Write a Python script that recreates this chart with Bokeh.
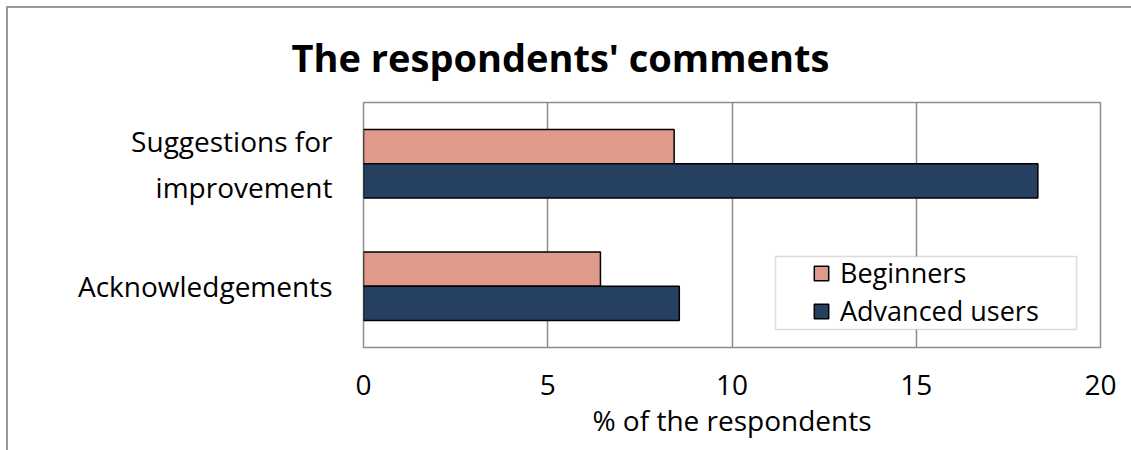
from bokeh.plotting import figure
from bokeh.layouts import column
from bokeh.models import (FactorRange, Range1d, FixedTicker, Legend, LegendItem,
                          ColumnDataSource, BoxAnnotation, InlineStyleSheet)
from bokeh.transform import dodge
from bokeh.embed import file_html
from bokeh.resources import INLINE

categories = ["Acknowledgements", "Suggestions for\nimprovement"]
beginners = [6.43, 8.43]
advanced = [8.57, 18.3]
series_names = ["Beginners", "Advanced users"]
x_ticks = [0, 5, 10, 15, 20]
title_text = "The respondents' comments"
x_title = "% of the respondents"

FONT = "Open Sans"
src = ColumnDataSource(dict(cat=categories, beg=beginners, adv=advanced))

p = figure(width=1131, height=450, output_backend="svg", toolbar_location=None,
           y_range=FactorRange(factors=categories), x_range=Range1d(0, 20),
           min_border_left=363, min_border_right=31, min_border_top=102,
           min_border_bottom=103, title=title_text)
p.title.align = "left"
p.title.offset = -72
p.title.standoff = 40
p.title.text_font = FONT
p.title.text_font_style = "bold"
p.title.text_font_size = "38px"
p.title.text_color = "black"

p.background_fill_color = "white"
p.border_fill_color = "white"
p.outline_line_color = "#8c8c8c"
p.outline_line_width = 1.5

r1 = p.hbar(y=dodge("cat", 0.14, range=p.y_range), right="beg", left=0, height=0.28,
            source=src, fill_color="#E09A8B", line_color="black", line_width=1.5)
r2 = p.hbar(y=dodge("cat", -0.14, range=p.y_range), right="adv", left=0, height=0.28,
            source=src, fill_color="#264061", line_color="black", line_width=1.5)

p.ygrid.visible = False
p.xgrid.grid_line_color = "#8c8c8c"
p.xgrid.grid_line_width = 1.5
p.xaxis.ticker = FixedTicker(ticks=x_ticks)
for ax in (p.xaxis[0], p.yaxis[0]):
    ax.axis_line_color = None
    ax.major_tick_line_color = None
    ax.minor_tick_line_color = None
    ax.major_tick_out = 0
    ax.major_tick_in = 0
    ax.major_label_text_font = FONT
    ax.major_label_text_font_size = "28px"
    ax.major_label_text_color = "black"
p.xaxis.major_label_standoff = 27
p.xaxis.axis_label = x_title
p.xaxis.axis_label_text_font = FONT
p.xaxis.axis_label_text_font_size = "28px"
p.xaxis.axis_label_text_font_style = "normal"
p.xaxis.axis_label_text_color = "black"
p.xaxis.axis_label_standoff = 3
p.yaxis.major_label_standoff = 31

# legend frame (decoration), wider than Bokeh's uniform legend padding allows
p.add_layout(BoxAnnotation(left=11.18, right=19.35, bottom=0.147, top=0.743,
                           fill_color="white", fill_alpha=1,
                           line_color="#8c8c8c", line_width=1.5))

legend = Legend(items=[LegendItem(label=series_names[0], renderers=[r1]),
                       LegendItem(label=series_names[1], renderers=[r2])],
                location=(449, 18), label_text_font=FONT, label_text_font_size="27px",
                label_text_color="black",
                border_line_color=None, background_fill_alpha=0,
                glyph_width=18, glyph_height=18, spacing=1, padding=0,
                margin=0, label_standoff=10, label_height=20)
p.add_layout(legend, "center")

frame_css = InlineStyleSheet(css="""
:host { position: relative; }
:host::before {
  content: ""; position: absolute; right: 0px; top: 8px;
  width: 14px; height: 40px; background: white;
  pointer-events: none; z-index: 99;
}
:host::after {
  content: ""; position: absolute; left: 6px; top: 6px;
  width: calc(100% - 6px); height: calc(100% - 6px);
  border-left: 2px solid #9a9a9a; border-top: 2px solid #9a9a9a;
  box-sizing: border-box; pointer-events: none; z-index: 100;
}
""")
layout = column(p, width=1131, height=450, stylesheets=[frame_css])

open("out.html", "w").write(file_html(layout, INLINE))
